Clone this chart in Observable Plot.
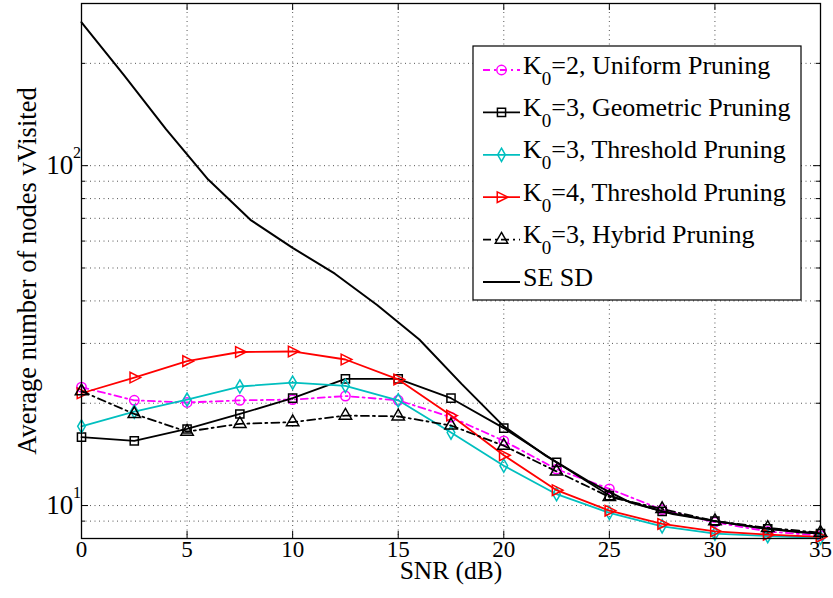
<!DOCTYPE html>
<html><head><meta charset="utf-8">
<script src="https://cdn.jsdelivr.net/npm/d3@7"></script>
<script src="https://cdn.jsdelivr.net/npm/@observablehq/plot@0.6"></script>
<style>
body{margin:0;background:#fff}
svg, svg text, svg tspan{font-family:"Liberation Serif","Times New Roman",serif !important}
</style>
</head><body><div id="chart"></div>
<script>
// ---- data ----
const snr = [0,2.5,5,7.5,10,12.5,15,17.5,20,22.5,25,27.5,30,32.5,35];
const uniformK2   = [22.3,20.4,20.1,20.4,20.5,21.0,20.4,18.2,15.5,12.8,11.2,9.73,8.93,8.39,8.16];
const geometricK3 = [15.9,15.5,16.8,18.6,20.7,23.6,23.6,20.7,16.9,13.4,10.7,9.61,9.0,8.54,8.27];
const thresholdK3 = [17.1,18.9,20.5,22.4,23.0,22.5,20.4,16.4,13.1,10.8,9.52,8.69,8.27,8.13,8.04];
const thresholdK4 = [21.4,23.8,26.6,28.3,28.4,26.9,23.5,18.4,14.06,11.1,9.66,8.83,8.40,8.21,8.09];
const hybridK3    = [21.7,18.6,16.5,17.4,17.6,18.4,18.3,17.2,15.0,12.6,10.6,9.77,9.0,8.60,8.32];
const seSnr = [0,2,4,6,8,10,12,14,16,18,20,22,24,26,28,30,32,34,35];
const seSd  = [264,185,128,91,69.3,57.3,48.1,38.9,30.8,22.8,17.1,14.0,11.8,10.2,9.45,9.0,8.62,8.35,8.27];

const legendK   = ["2","3","3","4","3"];
const legendRest = [", Uniform Pruning", ", Geometric Pruning", ", Threshold Pruning", ", Threshold Pruning", ", Hybrid Pruning"];
const seName = "SE SD";

const xTicks = [0,5,10,15,20,25,30,35];
const xGrid = [5,10,15,20,25,30];
const yMajor = [10,100];
const yMinor = [9,20,30,40,50,60,70,80,90,200];
const yGrid = [9,10,20,30,40,50,60,70,80,90,100,200];
const yLabelExp = ["1","2"];

// right-pointing triangle symbol
const triRight = {draw(ctx, size){ const s = Math.sqrt(size)*1.25;
  ctx.moveTo(0.6*s,0); ctx.lineTo(-0.4*s,-0.5*s); ctx.lineTo(-0.4*s,0.5*s); ctx.closePath(); }};

const series = [
  {values: uniformK2,   color:"#ff00ff", dash:"7,4,2,4", symbol:"circle",   r:4.7},
  {values: geometricK3, color:"#000000", dash:null,      symbol:"square",   r:4.6},
  {values: thresholdK3, color:"#00bfbf", dash:null,      symbol:"diamond",  r:4.0},
  {values: thresholdK4, color:"#ff0000", dash:null,      symbol:triRight,   r:4.8},
  {values: hybridK3,    color:"#000000", dash:"8,4,2,4", symbol:"triangle", r:4.6}
];

const H = 598, W = 833, mL = 81, mR = 13, mT = 3, mB = 60;
const ph = H - mT - mB, pw = W - mL - mR;
const FF = '"Liberation Serif","Times New Roman",serif';

const marks = [
  Plot.ruleX(xGrid, {x: d => d, stroke:"#000", strokeOpacity:0.75, strokeDasharray:"1,3.5", strokeWidth:0.9}),
  Plot.ruleY(yGrid, {y: d => d, stroke:"#000", strokeOpacity:0.75, strokeDasharray:"1,3.5", strokeWidth:0.9}),
  // inward ticks
  Plot.ruleX(xTicks, {x: d => d, insetTop: ph - 7, strokeWidth:1}),
  Plot.ruleX(xTicks, {x: d => d, insetBottom: ph - 7, strokeWidth:1}),
  Plot.ruleY(yMajor, {y: d => d, insetRight: pw - 7, strokeWidth:1}),
  Plot.ruleY(yMajor, {y: d => d, insetLeft: pw - 7, strokeWidth:1}),
  Plot.ruleY(yMinor, {y: d => d, insetRight: pw - 4, strokeWidth:1}),
  Plot.ruleY(yMinor, {y: d => d, insetLeft: pw - 4, strokeWidth:1}),
];
series.forEach(s => {
  const rows = snr.map((x,i) => ({x, y: s.values[i]}));
  marks.push(Plot.line(rows, {x:"x", y:"y", stroke:s.color, strokeWidth:1.8, strokeDasharray: s.dash || undefined}));
  marks.push(Plot.dot(rows, {x:"x", y:"y", stroke:s.color, fill:"none", strokeWidth:1.5, symbol:s.symbol, r:s.r}));
});
marks.push(Plot.line(seSnr.map((x,i)=>({x, y:seSd[i]})), {x:"x", y:"y", stroke:"#000", strokeWidth:2}));
marks.push(Plot.frame({stroke:"#000", strokeWidth:1.3}));
// tick labels
marks.push(Plot.text(xTicks, {x: d => d, frameAnchor:"bottom", dy:18, text: d => String(d), fontSize:23, fontFamily:FF}));
marks.push(Plot.text(yMajor, {y: d => d, frameAnchor:"left", dx:-8.3, textAnchor:"end", text: () => "10", fontSize:27, fontFamily:FF}));
marks.push(Plot.text(yMajor, {y: d => d, frameAnchor:"left", dx:-8.5, dy:-12.5, textAnchor:"start", text: (d,i) => yLabelExp[i], fontSize:16, fontFamily:FF}));
// axis titles
marks.push(Plot.text(["SNR (dB)"], {frameAnchor:"bottom", dy:40, fontSize:25.5, fontFamily:FF}));
marks.push(Plot.text(["Average number of nodes vVisited"], {frameAnchor:"left", dx:-54, rotate:-90, textAnchor:"middle", fontSize:26.5, fontFamily:FF}));

const chart = Plot.plot({
  width: W, height: H,
  marginLeft: mL, marginRight: mR, marginTop: mT, marginBottom: mB,
  x: {domain:[0,35], axis:null},
  y: {type:"log", domain:[8,300], axis:null},
  style: {fontFamily: FF, background:"white", color:"#000"},
  marks
});
document.getElementById("chart").appendChild(chart);

// legend inside the plot
const svg = d3.select(chart);
const lg = svg.append("g").attr("font-family",FF).attr("font-size",26).attr("text-anchor","start");
const lx0 = 473, lx1 = 801, ly0 = 46, ly1 = 300;
lg.append("rect").attr("x",lx0).attr("y",ly0).attr("width",lx1-lx0).attr("height",ly1-ly0)
  .attr("fill","white").attr("stroke","#000").attr("stroke-width",1.2);
const rowY = i => 70 + i*42.4;
const entries = series.map((s,i) => ({...s, k: legendK[i], rest: legendRest[i]}));
entries.push({color:"#000", dash:null, symbol:null, se:true});
entries.forEach((e,i) => {
  const y = rowY(i);
  lg.append("line").attr("x1",483).attr("x2",520).attr("y1",y).attr("y2",y)
    .attr("stroke",e.color).attr("stroke-width", e.se ? 2 : 1.8).attr("stroke-dasharray", e.dash || null);
  if (e.symbol) {
    const sym = typeof e.symbol === "string" ? {circle:d3.symbolCircle, square:d3.symbolSquare, diamond:d3.symbolDiamond, triangle:d3.symbolTriangle}[e.symbol] : e.symbol;
    lg.append("path").attr("d", d3.symbol(sym, Math.PI*e.r*e.r)()).attr("transform",`translate(501.5,${y})`)
      .attr("fill","none").attr("stroke",e.color).attr("stroke-width",1.5);
  }
  const t = lg.append("text").attr("x",523).attr("y",y+3.5).attr("fill","#000").attr("text-anchor","start");
  if (e.se) { t.text(seName); }
  else {
    t.append("tspan").text("K");
    t.append("tspan").attr("dy",11).attr("font-size",19).text("0");
    t.append("tspan").attr("dy",-11).text("=" + e.k + e.rest);
  }
});
</script>
</body></html>
